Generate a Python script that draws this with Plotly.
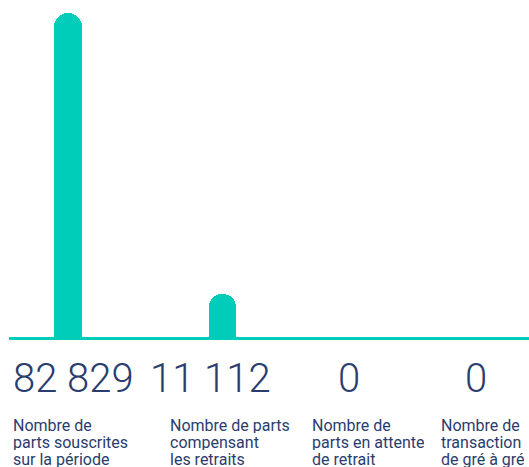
import plotly.graph_objects as go

categories = ["souscrites", "compensant", "attente", "gre"]
values = [82829, 11112, 0, 0]
value_labels = ["82 829", "11 112", "0", "0"]
descriptions = [
    ["Nombre de", "parts souscrites", "sur la période"],
    ["Nombre de parts", "compensant", "les retraits"],
    ["Nombre de", "parts en attente", "de retrait"],
    ["Nombre de", "transaction", "de gré à gré"],
]

TEAL = "#00CDB9"
NAVY = "#2B3C6E"

W, H = 529, 467
L, R, T, B = 9, 0, 0, 130
PW, PH = W - L - R, H - T - B

def px_x(x):
    return (x - L) / PW

def px_y(y):
    return (H - B - y) / PH

# bar geometry (screen px): centers 68 and 222.5, top of first bar at 13, baseline 337
unit = 154.5
x0 = -(68 - L) / unit
x1 = x0 + PW / unit
ymax = 82829 * (337 - T) / (337 - 13)

fig = go.Figure()
fig.add_trace(go.Bar(
    x=list(range(len(values))),
    y=values,
    width=27.5 / unit,
    marker=dict(color=TEAL, cornerradius="50%", line=dict(width=0)),
    hoverinfo="skip",
))

num_centers = [73, 210, 349, 476]
label_lefts = [13, 170, 312, 441]
line_tops = [415, 432, 448.5]
annotations = []
for i in range(len(values)):
    annotations.append(dict(
        text=value_labels[i], xref="paper", yref="paper",
        x=px_x(num_centers[i]), y=px_y(378.5), xanchor="center", yanchor="middle",
        showarrow=False, font=dict(family="Roboto", size=40, color=NAVY, weight=300),
    ))
    for j, line in enumerate(descriptions[i]):
        annotations.append(dict(
            text=line, xref="paper", yref="paper",
            x=px_x(label_lefts[i] - 2), y=px_y(line_tops[j]), xanchor="left", yanchor="top",
            align="left", valign="middle", height=16, showarrow=False,
            font=dict(family="Roboto", size=16, color=NAVY, weight=400),
        ))

fig.update_layout(
    width=W, height=H,
    margin=dict(l=L, r=R, t=T, b=B, pad=0),
    paper_bgcolor="white", plot_bgcolor="white",
    showlegend=False,
    bargap=0,
    xaxis=dict(range=[x0, x1], showgrid=False, zeroline=False,
               showticklabels=False, ticks="", showline=True,
               linecolor=TEAL, linewidth=3, fixedrange=True),
    yaxis=dict(range=[0, ymax], showgrid=False, zeroline=False,
               showticklabels=False, ticks="", showline=False, fixedrange=True),
    annotations=annotations,
)

fig.write_html(
    "out.html",
    config={"displayModeBar": False},
    post_script="document.body.style.margin='0';document.body.style.overflow='hidden';",
)
